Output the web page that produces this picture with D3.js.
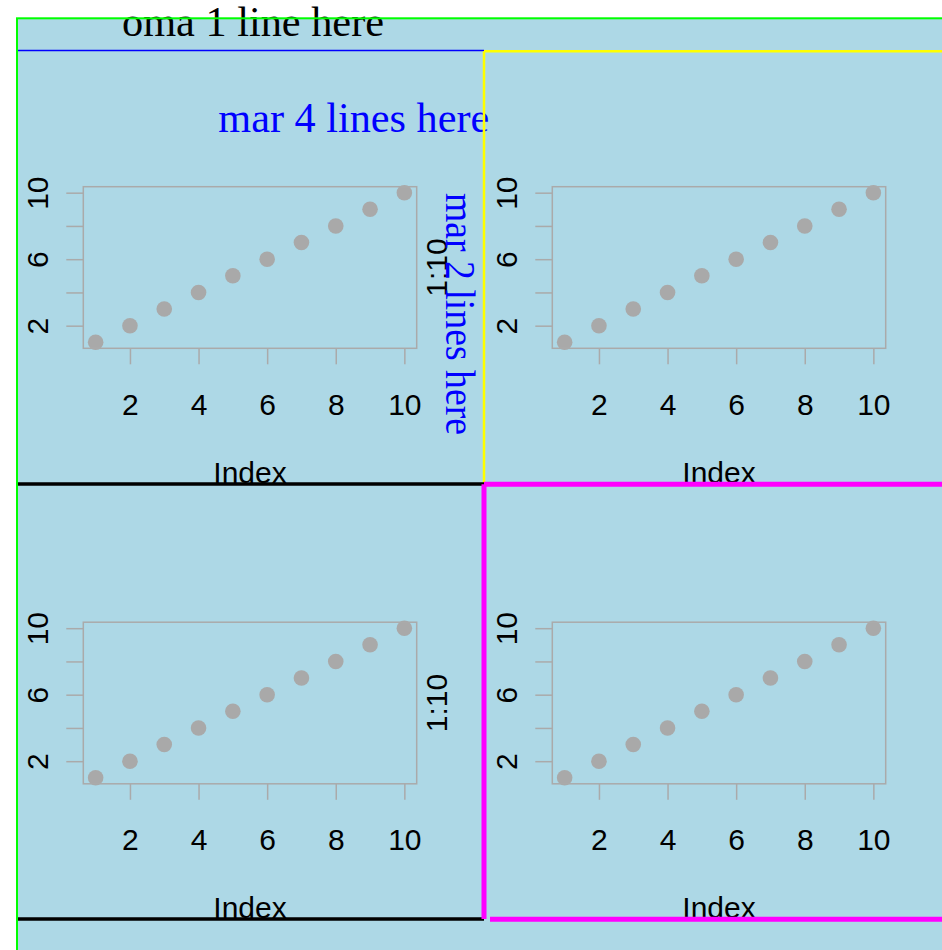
<!DOCTYPE html>
<html>
<head>
<meta charset="utf-8">
<script src="https://cdn.jsdelivr.net/npm/d3@7"></script>
<style>
  body { margin: 0; background: #fff; }
  svg { display: block; }
</style>
</head>
<body>
<div id="chart"></div>
<script>
// data: plot(1:10) in each of the 4 panels
const index = [1, 2, 3, 4, 5, 6, 7, 8, 9, 10];
const values = [1, 2, 3, 4, 5, 6, 7, 8, 9, 10];
const xTicks = [2, 4, 6, 8, 10];
const yTicks = [2, 4, 6, 8, 10];
const yTickLabels = ['2', '', '6', '', '10'];
const panelCols = [0, 1, 0, 1];
const panelRows = [0, 0, 1, 1];

const width = 942, height = 950;
const sans = 'Liberation Sans, Arial, sans-serif';
const serif = 'Liberation Serif, Times New Roman, serif';
const grey = '#AAAAAA';

const svg = d3.select('#chart')
  .append('svg')
  .attr('width', width)
  .attr('height', height);

// white page + light blue device area
svg.append('rect')
  .attr('width', width)
  .attr('height', height)
  .attr('fill', '#fff');
svg.append('rect')
  .attr('x', 17)
  .attr('y', 18)
  .attr('width', width)
  .attr('height', height)
  .attr('fill', '#ADD8E6');

// figure / plot geometry
const colLefts = [16.5, 485.5];
const rowTops = [50.5, 486];
const mar = { left: 66.8, top: 136.2 };
const plot = { width: 333.4, height: 161.6 };

const x = d3.scaleLinear().domain([0.64, 10.36]).range([0, plot.width]);
const y = d3.scaleLinear().domain([0.64, 10.36]).range([plot.height, 0]);

panelCols.forEach((c, i) => {
  const g = svg.append('g')
    .attr('transform', `translate(${colLefts[c] + mar.left},${rowTops[panelRows[i]] + mar.top})`);

  // x axis
  g.append('g')
    .attr('transform', `translate(0,${plot.height})`)
    .call(d3.axisBottom(x).tickValues(xTicks).tickSize(16).tickFormat(d3.format('d')))
    .attr('font-size', 30)
    .attr('font-family', sans)
    .call(a => a.select('.domain').remove())
    .call(a => a.selectAll('line').attr('stroke', grey).attr('stroke-width', 1.5))
    .call(a => a.selectAll('text').attr('y', 66.7).attr('dy', null).attr('fill', '#000'));

  // y axis
  g.append('g')
    .call(d3.axisLeft(y).tickValues(yTicks).tickSize(17).tickFormat((d, k) => yTickLabels[k]))
    .attr('font-size', 30)
    .attr('font-family', sans)
    .call(a => a.select('.domain').remove())
    .call(a => a.selectAll('line').attr('stroke', grey).attr('stroke-width', 1.5))
    .call(a => a.selectAll('text')
      .attr('x', 0)
      .attr('dy', null)
      .attr('text-anchor', 'middle')
      .attr('transform', 'translate(-35,0) rotate(-90)')
      .attr('fill', '#000'));

  // points
  g.selectAll('circle')
    .data(values)
    .enter()
    .append('circle')
    .attr('cx', (d, k) => x(index[k]))
    .attr('cy', d => y(d))
    .attr('r', 7.8)
    .attr('fill', '#A9A9A9');

  // box
  g.append('rect')
    .attr('width', plot.width)
    .attr('height', plot.height)
    .attr('fill', 'none')
    .attr('stroke', grey)
    .attr('stroke-width', 1.5);

  // axis titles
  g.append('text')
    .attr('x', plot.width / 2)
    .attr('y', 296)
    .attr('text-anchor', 'middle')
    .attr('font-family', sans)
    .attr('font-size', 30)
    .text('Index');
  // ylab sits far left; for the left column it falls off the page, so only the right one shows
  if (c === 1) {
    g.append('text')
      .attr('transform', `translate(-105.3,${plot.height / 2}) rotate(-90)`)
      .attr('text-anchor', 'middle')
      .attr('font-family', sans)
      .attr('font-size', 30)
      .text('1:10');
  }
});

// margin annotations
svg.append('text')
  .attr('x', 253)
  .attr('y', 35.5)
  .attr('text-anchor', 'middle')
  .attr('font-family', serif)
  .attr('font-size', 42)
  .attr('textLength', 262)
  .attr('lengthAdjust', 'spacingAndGlyphs')
  .text('oma 1 line here');
svg.append('text')
  .attr('x', 353.8)
  .attr('y', 132)
  .attr('text-anchor', 'middle')
  .attr('font-family', serif)
  .attr('font-size', 42)
  .attr('fill', 'blue')
  .attr('textLength', 271)
  .attr('lengthAdjust', 'spacingAndGlyphs')
  .text('mar 4 lines here');
svg.append('text')
  .attr('transform', 'translate(446,314) rotate(90)')
  .attr('text-anchor', 'middle')
  .attr('font-family', serif)
  .attr('font-size', 42)
  .attr('fill', 'blue')
  .attr('textLength', 242)
  .attr('lengthAdjust', 'spacingAndGlyphs')
  .text('mar 2 lines here');

// figure boxes (drawn over each other)
const seg = (x1, y1, x2, y2, col, w) => svg.append('line')
  .attr('x1', x1).attr('y1', y1).attr('x2', x2).attr('y2', y2)
  .attr('stroke', col).attr('stroke-width', w);

seg(17, 50.5, 484, 50.5, 'blue', 1.5);
seg(484, 51.2, 942, 51.2, 'yellow', 2.5);
seg(484, 51.2, 484, 484, 'yellow', 2.5);
seg(17, 484, 484, 484, 'black', 3.5);
seg(17, 919, 484, 919, 'black', 3.5);
seg(484, 484.3, 942, 484.3, 'magenta', 5);
seg(484, 484.3, 484, 919, 'magenta', 5);
seg(490, 919.3, 942, 919.3, 'magenta', 5);

// outer box
svg.append('rect')
  .attr('x', 17)
  .attr('y', 18.3)
  .attr('width', 960)
  .attr('height', 960)
  .attr('fill', 'none')
  .attr('stroke', '#00FF00')
  .attr('stroke-width', 2);
</script>
</body>
</html>
